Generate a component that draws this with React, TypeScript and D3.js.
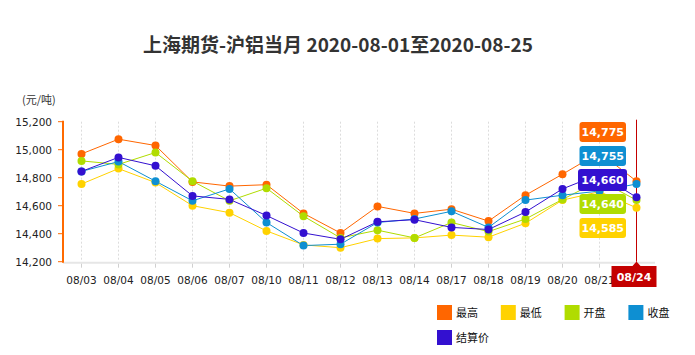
import React from 'react';
import * as d3 from 'd3';

// 上海期货 沪铝当月 daily prices, 2020-08
const dates = ['08/03', '08/04', '08/05', '08/06', '08/07', '08/10', '08/11', '08/12', '08/13', '08/14', '08/17', '08/18', '08/19', '08/20', '08/21', '08/24'];
const high = [14970, 15075, 15030, 14770, 14740, 14750, 14545, 14405, 14595, 14545, 14575, 14490, 14675, 14825, 14980, 14775];
const low = [14755, 14865, 14765, 14600, 14550, 14420, 14320, 14300, 14365, 14370, 14390, 14375, 14475, 14640, 14700, 14585];
const open = [14920, 14895, 14980, 14775, 14635, 14725, 14525, 14370, 14425, 14370, 14480, 14415, 14505, 14645, 14780, 14640];
const close = [14845, 14915, 14775, 14635, 14720, 14480, 14315, 14325, 14480, 14505, 14560, 14445, 14640, 14675, 14705, 14755];
const settle = [14845, 14945, 14885, 14670, 14645, 14530, 14405, 14360, 14485, 14500, 14445, 14430, 14555, 14720, 14825, 14660];
const seriesNames = ['最高', '最低', '开盘', '收盘', '结算价'];
const yTicks = [14200, 14400, 14600, 14800, 15000, 15200];

const COLORS = ['#ff6600', '#ffd200', '#b0dc00', '#0e8fd2', '#3310d0'];
const FONT = '"DejaVu Sans", Verdana, sans-serif';
const CJK = '"Noto Sans CJK SC", sans-serif';

export default function App() {
  const width = 695;
  const height = 355;
  const left = 63;
  const right = 655;
  const top = 121.7;
  const bottom = 261.7;

  const x = d3.scaleBand<string>().domain(dates).range([left, right]).padding(0);
  const cx = (d: string) => (x(d) as number) + x.bandwidth() / 2;
  const y = d3.scaleLinear().domain([14200, 15200]).range([bottom, top]);
  const fmt = d3.format(',');

  const series = [high, low, open, close, settle].map((values, i) => ({
    name: seriesNames[i],
    color: COLORS[i],
    values,
  }));

  const line = d3
    .line<number>()
    .x((_, i) => cx(dates[i]))
    .y((v) => y(v));

  const hoverIdx = dates.length - 1;
  const hx = cx(dates[hoverIdx]);

  // tooltip order as shown: high, close, settle, open, low
  const tipOrder = [0, 3, 4, 2, 1];

  return (
    <svg width={width} height={height} style={{ position: 'absolute', left: 0, top: 0, background: '#fff' }}>
      <text x={338} y={52} textAnchor="middle" fontFamily={CJK} fontWeight="bold" fontSize={19} fill="#333">
        上海期货-沪铝当月 2020-08-01至2020-08-25
      </text>
      <text x={22} y={104} fontFamily={CJK} fontSize={11} fill="#333">(元/吨)</text>

      {/* vertical dashed grid */}
      {dates.map((d) => (
        <line key={'g' + d} x1={cx(d)} x2={cx(d)} y1={top} y2={bottom} stroke="#dcdcdc" strokeDasharray="2,2" />
      ))}

      {/* x axis */}
      <line x1={left} x2={right} y1={bottom + 1} y2={bottom + 1} stroke="#e6e6e6" strokeWidth={2} />
      {dates.map((d, i) => (
        <g key={'x' + d}>
          <line x1={cx(d)} x2={cx(d)} y1={bottom + 2} y2={bottom + 6} stroke="#d0d0d0" />
          {i !== hoverIdx && (
            <text x={cx(d)} y={284} textAnchor="middle" fontFamily={FONT} fontSize={10.5} fill="#222">
              {d}
            </text>
          )}
        </g>
      ))}

      {/* y axis */}
      <line x1={left} x2={left} y1={top - 1} y2={bottom + 1} stroke="#ff6a00" strokeWidth={2} />
      {yTicks.map((t) => (
        <g key={'y' + t}>
          <line x1={left - 5} x2={left} y1={y(t)} y2={y(t)} stroke="#ff6a00" />
          <text x={52} y={y(t) + 4} textAnchor="end" fontFamily={FONT} fontSize={10.5} fill="#222">
            {fmt(t)}
          </text>
        </g>
      ))}

      {/* crosshair */}
      <line x1={hx} x2={hx} y1={top - 2} y2={bottom} stroke="#c40000" strokeWidth={1} />

      {/* lines */}
      {series.map((s) => (
        <path key={'l' + s.name} d={line(s.values) || ''} fill="none" stroke={s.color} strokeWidth={1} />
      ))}
      {series.map((s) =>
        s.values.map((v, i) => (
          <circle key={s.name + i} cx={cx(dates[i])} cy={y(v)} r={4} fill={s.color} />
        ))
      )}

      {/* tooltip labels */}
      {tipOrder.map((si, k) => {
        const s = series[si];
        const cy = 132 + k * 24;
        const wide = si === 4;
        const bx = wide ? 578 : 579.5;
        const bw = wide ? 49 : 46.5;
        const bh = wide ? 22 : 20;
        return (
          <g key={'tip' + si}>
            <rect x={bx} y={cy - bh / 2} width={bw} height={bh} rx={3} fill={s.color} />
            <text x={bx + bw / 2} y={cy + 4} textAnchor="middle" fontFamily={FONT} fontWeight="bold" fontSize={11} fill="#fff">
              {fmt(s.values[hoverIdx])}
            </text>
          </g>
        );
      })}

      {/* crosshair x label */}
      <path d={`M${hx - 4},${266} L${hx},${261.5} L${hx + 4},${266} Z`} fill="#c40000" />
      <rect x={hx - 25} y={266} width={45} height={21} fill="#c40000" />
      <text x={hx - 2.5} y={281} textAnchor="middle" fontFamily={FONT} fontWeight="bold" fontSize={11} fill="#fff">
        {dates[hoverIdx]}
      </text>

      {/* legend */}
      {series.map((s, i) => {
        const lx = 437 + (i % 4) * 63.8;
        const ly = 305 + Math.floor(i / 4) * 25;
        return (
          <g key={'lg' + s.name}>
            <rect x={lx} y={ly} width={15} height={15} fill={s.color} />
            <text x={lx + 19} y={ly + 12} fontFamily={CJK} fontSize={11} fill="#111">
              {s.name}
            </text>
          </g>
        );
      })}
    </svg>
  );
}
